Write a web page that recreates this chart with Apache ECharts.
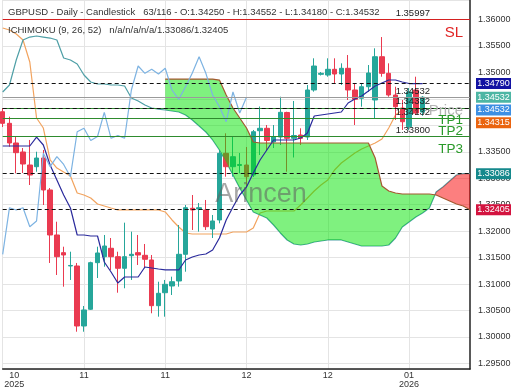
<!DOCTYPE html>
<html>
<head>
<meta charset="utf-8">
<script src="https://cdn.jsdelivr.net/npm/echarts@6/dist/echarts.min.js"></script>
<style>html,body{margin:0;padding:0;background:#fff;}</style>
</head>
<body>
<div id="main" style="width:520px;height:390px;"></div>
<script type="text/javascript">
// daily bars, each [open, close, low, high]
var bars = [
  [1.34257, 1.34038, 1.33968, 1.34327], [1.34038, 1.33666, 1.33596, 1.34163],
  [1.33666, 1.33483, 1.33093, 1.33785], [1.33496, 1.33269, 1.33099, 1.33571],
  [1.33250, 1.33061, 1.32872, 1.33723], [1.33218, 1.33382, 1.33123, 1.33501],
  [1.33382, 1.32778, 1.32494, 1.33534], [1.32778, 1.31927, 1.31398, 1.32815],
  [1.31927, 1.31517, 1.31171, 1.32178], [1.31593, 1.31549, 1.30950, 1.31706],
  [1.31341, 1.31351, 1.31077, 1.31611], [1.31341, 1.30207, 1.30099, 1.31398],
  [1.30207, 1.30510, 1.30099, 1.30585], [1.30523, 1.31404, 1.30510, 1.31422],
  [1.31404, 1.31587, 1.31114, 1.31706], [1.31517, 1.31719, 1.31328, 1.31927],
  [1.31676, 1.31517, 1.31266, 1.31870], [1.31517, 1.31298, 1.30836, 1.31611],
  [1.31298, 1.31517, 1.30920, 1.32160], [1.31536, 1.31562, 1.31077, 1.31990],
  [1.31593, 1.31549, 1.31360, 1.31927], [1.31543, 1.31468, 1.31298, 1.31757],
  [1.31455, 1.30591, 1.30447, 1.31549], [1.30591, 1.30825, 1.30383, 1.31044],
  [1.30836, 1.30995, 1.30383, 1.31077], [1.30963, 1.31044, 1.30793, 1.31139],
  [1.31058, 1.31562, 1.30950, 1.32116], [1.31562, 1.32443, 1.31233, 1.32494],
  [1.32432, 1.32400, 1.32022, 1.32683], [1.32418, 1.32443, 1.31990, 1.32532],
  [1.32400, 1.32084, 1.32022, 1.32589], [1.32040, 1.32192, 1.31870, 1.32305],
  [1.32211, 1.33471, 1.32148, 1.33534], [1.33471, 1.33218, 1.33029, 1.33849],
  [1.33218, 1.33407, 1.33029, 1.33785], [1.33241, 1.33260, 1.33093, 1.33477],
  [1.33250, 1.33029, 1.32840, 1.33590], [1.33061, 1.33879, 1.33023, 1.33912],
  [1.33898, 1.33944, 1.33439, 1.34356], [1.33944, 1.33713, 1.33534, 1.34006],
  [1.33685, 1.33789, 1.33571, 1.34006], [1.33779, 1.34246, 1.33628, 1.34541],
  [1.34243, 1.33755, 1.33123, 1.34257], [1.33755, 1.33808, 1.33392, 1.34460],
  [1.33817, 1.33755, 1.33628, 1.33944], [1.33779, 1.34668, 1.33723, 1.34762],
  [1.34668, 1.35121, 1.34636, 1.35267], [1.34964, 1.34983, 1.34942, 1.35008],
  [1.34951, 1.35059, 1.34919, 1.35267], [1.35059, 1.34970, 1.34794, 1.35267],
  [1.34970, 1.35078, 1.34762, 1.35172], [1.35078, 1.34668, 1.34479, 1.35329],
  [1.34668, 1.34492, 1.34006, 1.34794], [1.34511, 1.34730, 1.34352, 1.34794],
  [1.34730, 1.34989, 1.34630, 1.35140], [1.34479, 1.35297, 1.34138, 1.35456],
  [1.35297, 1.34983, 1.34919, 1.35669], [1.34983, 1.34573, 1.34541, 1.35172],
  [1.34573, 1.34352, 1.34101, 1.34730], [1.34327, 1.34068, 1.33912, 1.34479],
  [1.33974, 1.34630, 1.33912, 1.34705], [1.34668, 1.34233, 1.34195, 1.34919],
  [1.34250, 1.34532, 1.34180, 1.34552]
];

var tenkan = [
  1.33609, 1.33609, 1.33609, 1.33609, 1.33609, 1.33779, 1.33628, 1.33250, 1.32967, 1.32683,
  1.32437, 1.31927, 1.31927, 1.31908, 1.31908, 1.31417, 1.31228, 1.31020, 1.31133, 1.31133,
  1.31133, 1.31322, 1.31303, 1.31284, 1.31266, 1.31266, 1.31266, 1.31455, 1.31511, 1.31549,
  1.31568, 1.31644, 1.31870, 1.32211, 1.32456, 1.32683, 1.32834, 1.33099, 1.33345, 1.33534,
  1.33723, 1.33723, 1.33723, 1.33723, 1.33760, 1.33855, 1.34176, 1.34195, 1.34214, 1.34233,
  1.34252, 1.34422, 1.34497, 1.34554, 1.34649, 1.34743, 1.34800, 1.34857, 1.34857, 1.34819,
  1.34790, 1.34790, 1.34790
];

var kijun = [
  1.35839, 1.35802, 1.35726, 1.35613, 1.35197, 1.34138, 1.33949, 1.33345, 1.33193, 1.33118,
  1.33042, 1.32721, 1.32683, 1.32626, 1.32513, 1.32475, 1.32437, 1.32400, 1.32400, 1.32400,
  1.32400, 1.32400, 1.32400, 1.32400, 1.32362, 1.32211, 1.32078, 1.31965, 1.31946, 1.31946,
  1.31946, 1.31946, 1.31946, 1.31946, 1.31984, 1.31984, 1.31984, 1.32059, 1.32343, 1.32381,
  1.32381, 1.32381, 1.32381, 1.32381, 1.32494, 1.32626, 1.32759, 1.32872, 1.32967, 1.33156,
  1.33288, 1.33383, 1.33477, 1.33553, 1.33609, 1.33666, 1.33741, 1.33949, 1.34195, 1.34290,
  1.34309, 1.34315, 1.34315
];

// leading spans run 7 bars past the last candle
var spanA = [
  1.34630, 1.34762, 1.35235, 1.35613, 1.35669, 1.35688, 1.35669, 1.35650, 1.35613, 1.35272,
  1.35235, 1.35159, 1.34951, 1.34819, 1.34781, 1.34781, 1.34762, 1.34762, 1.34743, 1.34516,
  1.34460, 1.34384, 1.34327, 1.34308, 1.34290, 1.34271, 1.34252, 1.34195, 1.34100, 1.33987,
  1.33874, 1.33723, 1.33534, 1.33307, 1.33061, 1.32815, 1.32589, 1.32362, 1.32305, 1.32248,
  1.32116, 1.31965, 1.31833, 1.31757, 1.31738, 1.31757, 1.31795, 1.31814, 1.31833, 1.31833,
  1.31833, 1.31795, 1.31757, 1.31719, 1.31719, 1.31719, 1.31719, 1.31738, 1.31870, 1.32078,
  1.32173, 1.32267, 1.32343, 1.32437, 1.32740, 1.32834, 1.32948, 1.33061, 1.33086, 1.33086
];
var spanB = [
  null, null, null, null, null, null, null, null, null, null,
  null, null, null, null, null, null, null, null, null, null,
  null, null, null, null, 1.34875, 1.34875, 1.34875, 1.34875, 1.34875, 1.34875,
  1.34875, 1.34875, 1.34856, 1.34573, 1.34327, 1.34138, 1.33949, 1.33685, 1.33666, 1.33666,
  1.33666, 1.33666, 1.33666, 1.33666, 1.33666, 1.33666, 1.33666, 1.33666, 1.33666, 1.33666,
  1.33666, 1.33666, 1.33666, 1.33666, 1.33666, 1.33382, 1.32853, 1.32759, 1.32721, 1.32702,
  1.32702, 1.32702, 1.32702, 1.32702, 1.32683, 1.32626, 1.32570, 1.32513, 1.32475, 1.32405
];

var xTickIdx = [0, 12, 24, 36, 48, 60];
var xTickText = ['10\n2025', '11', '11', '12', '12', '01\n2026'];
var hideYLabels = [1.345, 1.34];

var slLevel = 1.35997;
var priceLevel = 1.34532;
var tpLevels = [1.34332, 1.34132, 1.33800];
var tpNames = ['TP1', 'TP2', 'TP3'];
var dashLevels = [1.34790, 1.34315, 1.33086, 1.32405];
var tagValues = [1.34790, 1.34532, 1.34532, 1.34315, 1.33086, 1.32405];
var tagColors = ['#1212a3', '#4db6a4', '#3d8fe3', '#ea640f', '#15898c', '#d3133f'];

var UP = '#26a69a', DOWN = '#ea3a50';
var FONT = 'Liberation Sans, Arial, sans-serif';

var slots = spanA.map(function (v, i) { return String(i); });
var chikou = bars.slice(26).map(function (b, i) { return [i, b[1]]; });
function pairs(arr) {
  var out = [];
  arr.forEach(function (v, i) { if (v != null) out.push([i, v]); });
  return out;
}

function renderCloud(params, api) {
  var children = [];
  var runA = [], runB = [], sign = null;
  function flush() {
    if (runA.length > 1) {
      children.push({
        type: 'polygon',
        shape: { points: runA.concat(runB.slice().reverse()) },
        style: { fill: sign > 0 ? 'rgba(0,228,0,0.5)' : 'rgba(250,0,0,0.5)' }
      });
    }
  }
  for (var i = 24; i < spanA.length; i++) {
    var d = spanB[i] - spanA[i];
    var s = d >= 0 ? 1 : -1;
    var pa = api.coord([i, spanA[i]]);
    var pb = api.coord([i, spanB[i]]);
    if (sign === null) sign = s;
    if (s !== sign) {
      var dp = spanB[i - 1] - spanA[i - 1];
      var t = dp / (dp - d);
      var qa = api.coord([i - 1, spanA[i - 1]]);
      var c = [qa[0] + t * (pa[0] - qa[0]), qa[1] + t * (pa[1] - qa[1])];
      runA.push(c); runB.push(c);
      flush();
      runA = [c]; runB = [c]; sign = s;
    }
    runA.push(pa);
    runB.push(pb);
  }
  flush();
  return { type: 'group', children: children };
}

function lvl(v, color, type, numText, name, nameColor, nameSize) {
  var items = [{
    yAxis: v,
    lineStyle: { color: color, type: type, width: 1 },
    label: numText ? {
      show: true, formatter: numText, position: 'insideEndTop', distance: [40, 1],
      color: '#222', fontSize: 9.5, fontFamily: FONT
    } : { show: false }
  }];
  if (name) {
    items.push({
      yAxis: v,
      lineStyle: { color: 'rgba(0,0,0,0)', width: 1 },
      label: {
        show: true, formatter: name, position: 'insideEndBottom', distance: [7, 6],
        color: nameColor, fontSize: nameSize, fontFamily: FONT
      }
    });
  }
  return items;
}

var markData = [].concat(
  lvl(slLevel, '#d42020', 'solid', slLevel.toFixed(5), 'SL', '#e02424', 15),
  lvl(priceLevel, '#9a9a9a', 'solid', priceLevel.toFixed(5), 'Price', '#b4b4b4', 15),
  lvl(tpLevels[0], '#2e8b2e', 'solid', tpLevels[0].toFixed(5), tpNames[0], '#2a9a2a', 13.5),
  lvl(tpLevels[1], '#2e8b2e', 'solid', tpLevels[1].toFixed(5), tpNames[1], '#2a9a2a', 13.5),
  lvl(tpLevels[2], '#2e8b2e', 'solid', tpLevels[2].toFixed(5), tpNames[2], '#2a9a2a', 13.5)
);
dashLevels.forEach(function (v) {
  markData = markData.concat(lvl(v, '#111', [4, 3], null));
});

function isTick(index) { return xTickIdx.indexOf(index) >= 0; }

var chart = echarts.init(document.getElementById('main'));

var option = {
  animation: false,
  grid: { left: 2.7, right: 50, top: 0, bottom: 21, containLabel: false, outerBoundsMode: 'none' },
  xAxis: {
    type: 'category', data: slots, boundaryGap: false,
    axisLine: { onZero: false, lineStyle: { color: '#222', width: 1.5 } },
    axisTick: { show: false },
    splitLine: { show: true, interval: isTick, lineStyle: { color: '#e4e4e4' } },
    axisLabel: {
      interval: isTick, margin: 2, color: '#333', fontSize: 9, lineHeight: 9, fontFamily: FONT,
      formatter: function (v, index) {
        var k = xTickIdx.indexOf(Number(v));
        if (k < 0) return '';
        if (k === 0) {
          return xTickText[0].split('\n').map(function (s) { return '{f|' + s + '}'; }).join('\n');
        }
        return xTickText[k];
      },
      rich: { f: { padding: [0, 0, 0, 23], fontSize: 9, lineHeight: 9, color: '#333', fontFamily: FONT } }
    }
  },
  yAxis: {
    type: 'value', position: 'right', scale: true,
    min: 1.29394, max: 1.36369, minInterval: 0.005, maxInterval: 0.005, splitNumber: 14,
    axisLine: { show: true, lineStyle: { color: '#222', width: 1.5 } },
    axisTick: { show: false },
    splitLine: { lineStyle: { color: '#e4e4e4' } },
    axisLabel: {
      margin: 8, color: '#333', fontSize: 9, fontFamily: FONT,
      showMinLabel: false, showMaxLabel: false,
      formatter: function (v) {
        var r = Math.round(v / 0.005) * 0.005;
        if (Math.abs(v - r) > 1e-7) return '';
        for (var j = 0; j < hideYLabels.length; j++) {
          if (Math.abs(r - hideYLabels[j]) < 1e-7) return '';
        }
        return r.toFixed(5);
      }
    }
  },
  series: [
    {
      type: 'candlestick', z: 2, barWidth: 5,
      data: bars.map(function (b, i) { return [i, b[0], b[1], b[2], b[3]]; }),
      encode: { x: 0, y: [1, 2, 3, 4] },
      itemStyle: { color: UP, color0: DOWN, borderColor: UP, borderColor0: DOWN, borderWidth: 1 }
    },
    {
      type: 'line', z: 2, symbol: 'none', data: pairs(kijun),
      lineStyle: { color: '#f2a35e', width: 1.2 }
    },
    {
      type: 'line', z: 2, symbol: 'none', data: pairs(spanA),
      lineStyle: { color: '#4e9fa6', width: 1.2 }
    },
    {
      type: 'custom', z: 3, renderItem: renderCloud, silent: true,
      data: [[24, spanA[24]]], encode: { x: 0, y: 1 }
    },
    {
      type: 'line', z: 4, symbol: 'none', data: pairs(spanB),
      lineStyle: { color: '#a4582f', width: 1.2 }
    },
    {
      type: 'line', z: 4, symbol: 'none', data: pairs(tenkan),
      lineStyle: { color: '#2a2a9c', width: 1.2 }
    },
    {
      type: 'line', z: 4, symbol: 'none', data: chikou,
      lineStyle: { color: '#7db3e2', width: 1.2 }
    },
    {
      type: 'line', z: 5, data: [],
      markLine: { silent: true, symbol: 'none', precision: 5, animation: false, data: markData }
    }
  ]
};
chart.setOption(option);

// price tags on the right axis, pushed down so they do not overlap
var graphics = [];
var prevY = -100;
tagValues.forEach(function (v, k) {
  var y = chart.convertToPixel({ yAxisIndex: 0 }, v);
  y = Math.max(y, prevY + 12.8);
  prevY = y;
  graphics.push({
    type: 'rect', z: 100, shape: { x: 476, y: y - 5.5, width: 35, height: 11 },
    style: { fill: tagColors[k] }
  });
  graphics.push({
    type: 'text', z: 101,
    style: { text: v.toFixed(5), x: 493.5, y: y, align: 'center', verticalAlign: 'middle',
             fill: '#fff', fontSize: 9, fontFamily: FONT }
  });
});

var last = bars[bars.length - 1];
graphics.push({
  type: 'text', z: 100,
  style: {
    text: 'GBPUSD - Daily - Candlestick   ' + bars.length + '/116 - O:' + last[0].toFixed(5) +
          ' - H:' + last[3].toFixed(5) + ' - L:' + last[2].toFixed(5) + ' - C:' + last[1].toFixed(5),
    x: 8, y: 12.5, verticalAlign: 'middle', fill: '#333', fontSize: 9.5, fontFamily: FONT
  }
});
graphics.push({
  type: 'text', z: 100,
  style: {
    text: 'ICHIMOKU (9, 26, 52)   n/a/n/a/n/a/' + spanA[spanA.length - 1].toFixed(5) + '/' +
          spanB[spanB.length - 1].toFixed(5),
    x: 8, y: 30, verticalAlign: 'middle', fill: '#333', fontSize: 9.5, fontFamily: FONT
  }
});
graphics.push({
  type: 'text', z: 100, silent: true,
  style: { text: 'Arincen', x: 261, y: 195, align: 'center', verticalAlign: 'middle',
           fill: 'rgba(95,95,95,0.55)', fontSize: 27, fontFamily: FONT }
});

chart.setOption({ graphic: graphics });
</script>
</body>
</html>
